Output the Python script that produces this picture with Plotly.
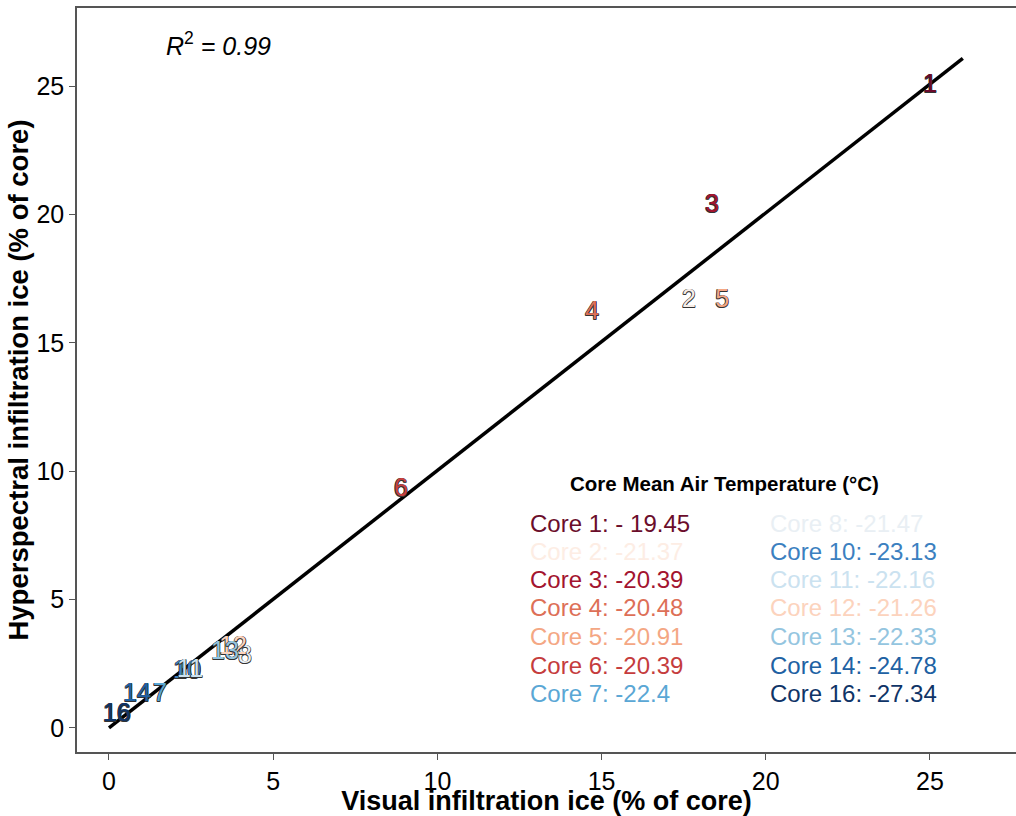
import plotly.graph_objects as go

# ---- data ----
core_ids = ["1", "2", "3", "4", "5", "6", "7", "8", "10", "11", "12", "13", "14", "16"]
visual_ice = [25.0, 17.66, 18.36, 14.71, 18.67, 8.89, 1.55, 4.14, 2.38, 2.47, 3.78, 3.53, 0.85, 0.24]
hyper_ice = [25.0, 16.63, 20.33, 16.16, 16.63, 9.27, 1.29, 2.76, 2.18, 2.22, 3.12, 2.92, 1.29, 0.51]
core_colors = ["#6a0a2c", "#f6ece6", "#a3142f", "#dd6f57", "#f4a784", "#c8403f", "#5aa7d5",
               "#e9eff4", "#3b80c0", "#cbe2f0", "#fcd3bd", "#94c5df", "#2061a3", "#0f3467"]

legend_labels = ["Core 1: - 19.45", "Core 2: -21.37", "Core 3: -20.39", "Core 4: -20.48",
                 "Core 5: -20.91", "Core 6: -20.39", "Core 7: -22.4",
                 "Core 8: -21.47", "Core 10: -23.13", "Core 11: -22.16", "Core 12: -21.26",
                 "Core 13: -22.33", "Core 14: -24.78", "Core 16: -27.34"]
legend_colors = ["#6b0d2b", "#fdede4", "#a3142f", "#dd6f57", "#f4a784", "#c53c3d", "#5aa7d5",
                 "#e9eff4", "#3b80c0", "#cbe2f0", "#fcd3bd", "#94c5df", "#2061a3", "#0f3467"]
legend_title = "Core Mean Air Temperature (°C)"

fit_x = [0, 26]
fit_slope = 1.003
fit_intercept = 0.0
r2_text = "<i>R</i><sup>2</sup><i> = 0.99</i>"

x_ticks = [0, 5, 10, 15, 20, 25]
y_ticks = [0, 5, 10, 15, 20, 25]

FONT = "Liberation Sans, Arial, sans-serif"

fig = go.Figure()
fig.add_trace(go.Scatter(
    x=fit_x, y=[fit_intercept + fit_slope * v for v in fit_x],
    mode="lines", line=dict(color="black", width=3.5), hoverinfo="skip", showlegend=False))

outline = "0.6px 0.6px 0 #333, -0.6px -0.6px 0 #333, 0.6px -0.6px 0 #333, -0.6px 0.6px 0 #333"
fig.add_trace(go.Scatter(
    x=visual_ice, y=hyper_ice, mode="text", text=core_ids,
    textposition="middle center",
    textfont=dict(family=FONT, size=25, color=core_colors, shadow=outline),
    showlegend=False))

annotations = []
annotations.append(dict(x=1.67, y=26.64, xref="x", yref="y", text=r2_text, showarrow=False,
                        xanchor="left", yanchor="middle",
                        font=dict(family=FONT, size=25, color="black")))
annotations.append(dict(x=18.73, y=9.54, xref="x", yref="y", text="<b>" + legend_title + "</b>",
                        showarrow=False, xanchor="center", yanchor="middle",
                        font=dict(family=FONT, size=20.5, color="black")))
col_x = [12.76, 20.07]
row_y = [7.98, 6.89, 5.80, 4.71, 3.58, 2.45, 1.36]
for i, (lab, col) in enumerate(zip(legend_labels, legend_colors)):
    c, r = divmod(i, 7)
    annotations.append(dict(x=col_x[c], y=row_y[r], xref="x", yref="y", text=lab,
                            showarrow=False, xanchor="left", yanchor="middle",
                            font=dict(family=FONT, size=24, color=col)))

axis_common = dict(showgrid=False, zeroline=False, showline=True, linecolor="#555555", linewidth=1.5,
                   ticks="outside", ticklen=6, tickcolor="#555555", tickwidth=1, automargin=False,
                   tickfont=dict(family=FONT, size=25, color="black"))

fig.update_layout(
    width=1016, height=816,
    margin=dict(l=77, r=0, t=8, b=64),
    plot_bgcolor="white", paper_bgcolor="white",
    annotations=annotations,
    xaxis=dict(range=[-0.974, 27.62], tickvals=x_ticks, mirror=True,
               title=dict(text="<b>Visual infiltration ice (% of core)</b>", standoff=0,
                          font=dict(family=FONT, size=27, color="black")),
               **axis_common),
    yaxis=dict(range=[-0.935, 28.04], tickvals=y_ticks,
               title=dict(text="<b>Hyperspectral infiltration ice (% of core)</b>", standoff=0,
                          font=dict(family=FONT, size=27.5, color="black")),
               **axis_common),
)

fig.write_html("out.html", config={"displayModeBar": False},
               post_script="document.body.style.margin='0';document.body.style.overflow='hidden';")
